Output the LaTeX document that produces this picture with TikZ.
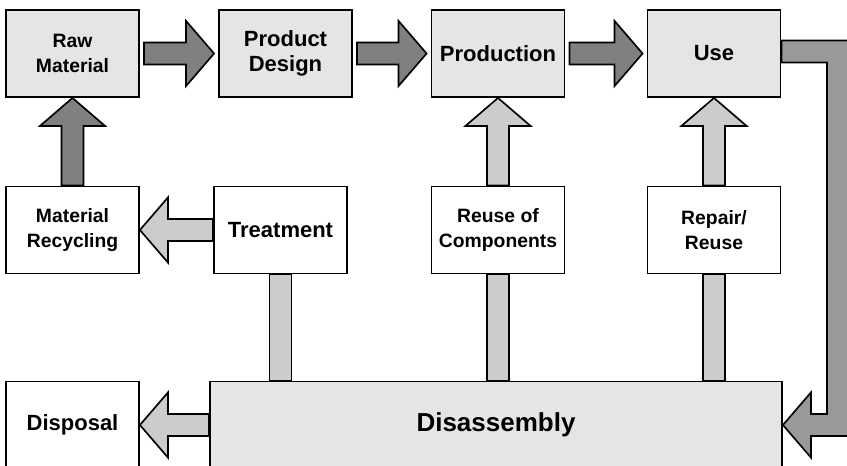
\documentclass[tikz,border=0pt]{standalone}
\usepackage{fontspec}
\setmainfont{Liberation Sans}
\usetikzlibrary{calc}

\definecolor{boxgray}{gray}{0.9}
\definecolor{dark}{HTML}{808080}
\definecolor{mid}{HTML}{999999}
\definecolor{light}{HTML}{CCCCCC}

\begin{document}
\begin{tikzpicture}[x=0.75pt,y=-0.75pt,
  box/.style={draw,line width=1.4pt,inner sep=0pt,align=center,
    minimum width=99.75pt,minimum height=65.25pt,
    font=\bfseries\fontsize{16.5}{18.5}\selectfont},
  shaded/.style={box,fill=boxgray},
  small/.style={font=\bfseries\fontsize{14.5}{18.5}\selectfont},
  arr/.style={draw,line width=1.25pt,line join=miter}]

% Parameters (1px = 0.75pt)
\def\sw{8.25pt}   % half width of a shaft
\def\hw{24.4pt}   % half width of a head
\def\hl{21pt}     % length of a head

% Block arrow: gap, fill, tail, tip
\def\blockarrow#1#2#3#4{%
  \coordinate (bs) at ($(#3)!#1!(#4)$);
  \coordinate (bt) at ($(#4)!#1!(#3)$);
  \coordinate (bh) at ($(bt)!\hl!(bs)$);
  \draw[arr,fill=#2] ($(bs)!\sw!90:(bt)$) -- ($(bh)!\sw!90:(bt)$)
    -- ($(bh)!\hw!90:(bt)$) -- (bt) -- ($(bh)!\hw!-90:(bt)$)
    -- ($(bh)!\sw!-90:(bt)$) -- ($(bs)!\sw!-90:(bt)$) -- cycle;
}

\useasboundingbox (0,0) rectangle (847,465);

% Top row
\node[shaded,small] (raw)    at (72.5,53.5) {Raw\\Material};
\node[shaded]       (design) at (285.5,53.5) {Product\\Design};
\node[shaded]       (prod)   at (498,53.5)  {Production};
\node[shaded]       (use)    at (714,53.5)  {Use};

% Middle row
\node[box,small] (recyc)  at (72.5,230) {Material\\Recycling};
\node[box]       (treat)  at (280.5,230) {Treatment};
\node[box,small] (reuse)  at (498,230)  {Reuse of\\Components};
\node[box,small] (repair) at (714,230)  {Repair/\\Reuse};

% Bottom row
\node[box]    (disp) at (72.5,425) {Disposal};
\node[shaded,minimum width=429pt,font=\bfseries\fontsize{19.5}{22}\selectfont]
              (diss) at (496,425) {Disassembly};

% Forward flow
\blockarrow{3pt}{dark}{raw.east}{design.west}
\blockarrow{3pt}{dark}{design.east}{prod.west}
\blockarrow{3pt}{dark}{prod.east}{use.west}
\blockarrow{0pt}{dark}{recyc.north}{raw.south}

% Back flow
\blockarrow{0pt}{light}{treat.west}{recyc.east}
\blockarrow{0pt}{light}{reuse.north}{prod.south}
\blockarrow{0pt}{light}{repair.north}{use.south}
\blockarrow{0pt}{light}{diss.west}{disp.east}

% Bars up from disassembly
\foreach \n in {treat,reuse,repair}
  \draw[arr,fill=light] ($(\n.south)+(-11,0)$) rectangle ($(\n.south |- diss.north)+(11,0)$);

% Use back down to disassembly
\coordinate (bend) at (838,51.5);
\draw[arr,fill=mid] let \p1=($(use.east)+(0,-2)$), \p2=(diss.east), \p3=(bend) in
  (\x1,\y1+\sw) -- (\x3+\sw,\y1+\sw) -- (\x3+\sw,\y2-\sw) -- (\x2+\hl,\y2-\sw)
  -- (\x2+\hl,\y2-\hw) -- (\x2,\y2) -- (\x2+\hl,\y2+\hw) -- (\x2+\hl,\y2+\sw)
  -- (\x3-\sw,\y2+\sw) -- (\x3-\sw,\y1-\sw) -- (\x1,\y1-\sw) -- cycle;

\end{tikzpicture}
\end{document}
